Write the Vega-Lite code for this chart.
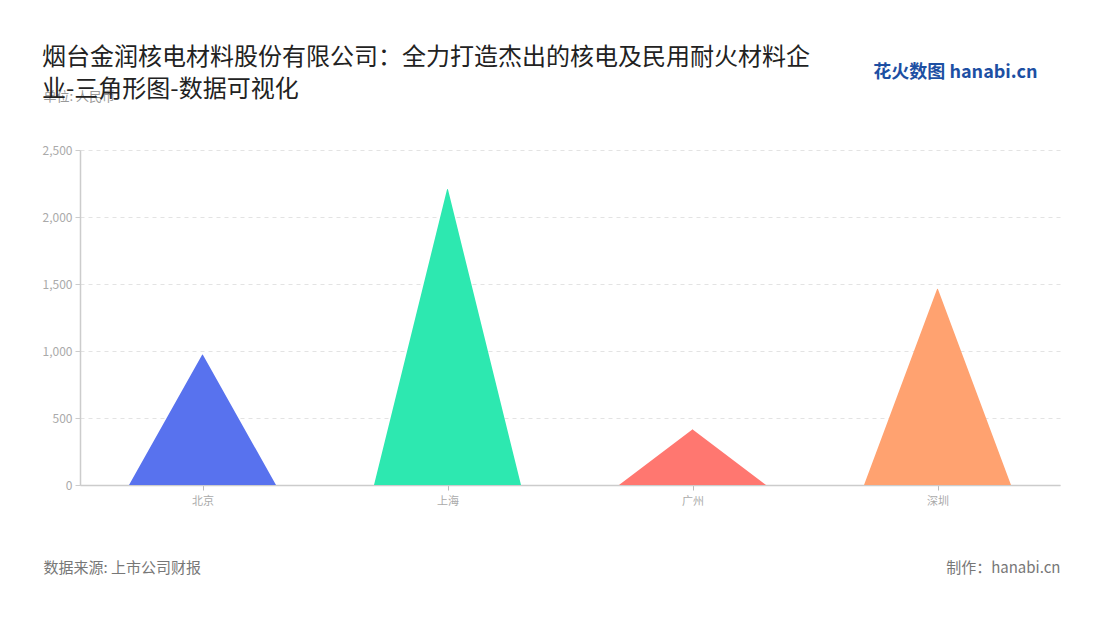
{
  "$schema": "https://vega.github.io/schema/vega-lite/v6.json",
  "width": 980,
  "height": 335,
  "autosize": "none",
  "padding": {"left": 80, "top": 150, "right": 40, "bottom": 135},
  "background": "white",
  "config": {
    "font": "Noto Sans CJK SC",
    "view": {"stroke": null}
  },
  "title": {
    "text": ["烟台金润核电材料股份有限公司：全力打造杰出的核电及民用耐火材料企", "业-三角形图-数据可视化"],
    "anchor": "start",
    "fontSize": 24,
    "fontWeight": "normal",
    "color": "#222222",
    "lineHeight": 32,
    "offset": -39
  },
  "data": {
    "values": [
      {"city": "北京", "value": 970},
      {"city": "上海", "value": 2205},
      {"city": "广州", "value": 413},
      {"city": "深圳", "value": 1460}
    ]
  },
  "transform": [
    {"stack": "value", "groupby": ["city"], "as": ["v0", "v1"]},
    {"fold": ["v0", "v1"], "as": ["end", "amount"]}
  ],
  "layer": [
    {
      "mark": {"type": "trail", "clip": true},
      "encoding": {
        "x": {
          "field": "city",
          "type": "nominal",
          "sort": ["北京", "上海", "广州", "深圳"],
          "axis": {
            "labelAngle": 0,
            "labelColor": "#aaaaaa",
            "labelFontSize": 11,
            "labelPadding": 5,
            "tickColor": "#bbbbbb",
            "tickSize": 5,
            "domainColor": "#cccccc",
            "domainWidth": 1.5,
            "grid": false,
            "title": "数据来源: 上市公司财报",
            "titleX": -37,
            "titleY": 82,
            "titleAlign": "left",
            "titleBaseline": "middle",
            "titleFontSize": 15,
            "titleFontWeight": "normal",
            "titleColor": "#777777"
          }
        },
        "y": {
          "field": "amount",
          "type": "quantitative",
          "scale": {"domain": [0, 2500], "nice": false, "padding": 0},
          "axis": {
            "values": [0, 500, 1000, 1500, 2000, 2500],
            "format": ",d",
            "gridDash": [4, 4],
            "gridColor": "#e3e3e3",
            "domainColor": "#cccccc",
            "domainWidth": 1.5,
            "tickColor": "#cccccc",
            "tickSize": 5,
            "labelColor": "#aaaaaa",
            "labelFontSize": 12,
            "labelPadding": 3,
            "title": "单位: 人民币",
            "titleAngle": 0,
            "titleX": -37,
            "titleY": -54,
            "titleAlign": "left",
            "titleBaseline": "middle",
            "titleFontSize": 13,
            "titleFontWeight": "normal",
            "titleColor": "#999999"
          }
        },
        "color": {
          "field": "city",
          "type": "nominal",
          "scale": {
            "domain": ["北京", "上海", "广州", "深圳"],
            "range": ["#5872ee", "#2de8b0", "#ff7770", "#ffa270"]
          },
          "legend": null
        },
        "size": {"condition": {"test": "datum.end === 'v0'", "value": 147}, "value": 0},
        "order": {"field": "end"}
      }
    },
    {
      "mark": {"type": "point", "opacity": 0},
      "encoding": {
        "x": {
          "field": "city",
          "type": "nominal",
          "sort": ["北京", "上海", "广州", "深圳"],
          "axis": {
            "orient": "top",
            "labels": false,
            "ticks": false,
            "domain": false,
            "grid": false,
            "title": "花火数图 hanabi.cn",
            "titleX": 957,
            "titleY": -78,
            "titleAlign": "right",
            "titleBaseline": "middle",
            "titleFontSize": 18,
            "titleFontWeight": "bold",
            "titleColor": "#1d4fa3"
          }
        },
        "y": {
          "field": "amount",
          "type": "quantitative",
          "scale": {"domain": [0, 2500], "nice": false, "padding": 0},
          "axis": {
            "orient": "right",
            "labels": false,
            "ticks": false,
            "domain": false,
            "grid": false,
            "title": "制作：hanabi.cn",
            "titleAngle": 0,
            "titleX": 0,
            "titleY": 417,
            "titleAlign": "right",
            "titleBaseline": "middle",
            "titleFontSize": 15,
            "titleFontWeight": "normal",
            "titleColor": "#777777"
          }
        }
      }
    }
  ],
  "resolve": {"axis": {"x": "independent", "y": "independent"}}
}
